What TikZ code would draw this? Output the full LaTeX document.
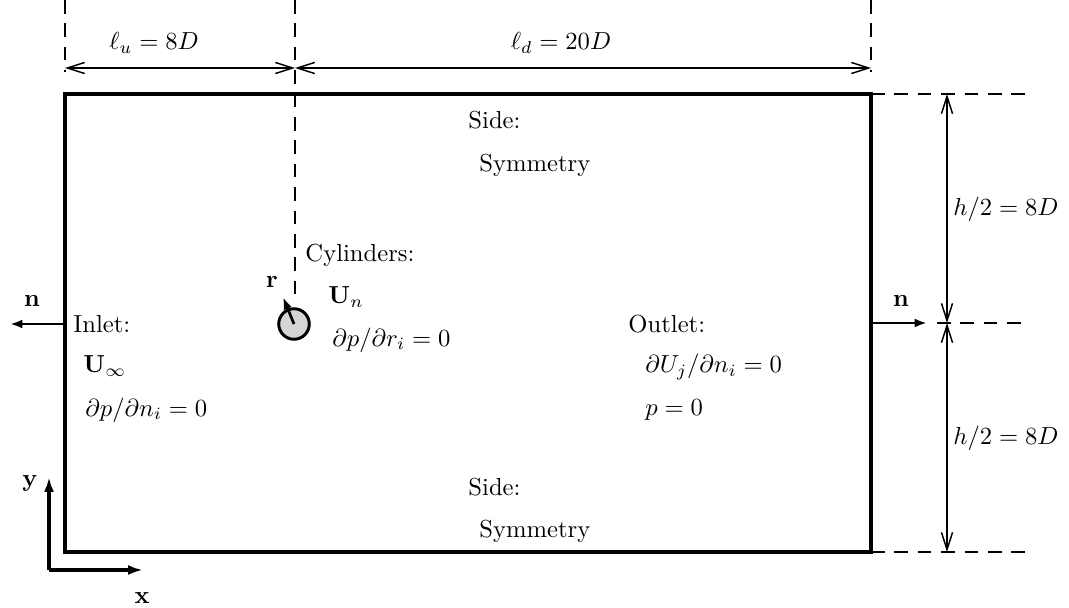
\documentclass[tikz,border=0pt]{standalone}
\usetikzlibrary{arrows.meta}
\begin{document}
\begin{tikzpicture}[x=0.406pt,y=-0.406pt,
  wall/.style={line width=1.3pt},
  dimline/.style={line width=0.6pt,{Straight Barb[length=7pt,width=4.5pt]}-{Straight Barb[length=7pt,width=4.5pt]}},
  guide/.style={line width=0.55pt,dash pattern=on 5.5pt off 4pt},
  normal/.style={line width=1.1pt,-{Latex[length=5pt,width=3.6pt]}},
  lbl/.style={inner sep=0pt,anchor=west},
  ctr/.style={inner sep=0pt}]
\useasboundingbox (0,0) rectangle (1069,608);
% domain corners
\coordinate (TL) at (65,94);
\coordinate (TR) at (871,94);
\coordinate (BL) at (65,552);
\coordinate (BR) at (871,552);
\draw[wall] (TL) -- (TR) -- (BR) -- (BL) -- cycle;
% guide lines
\coordinate (gL0) at (65,0);   \coordinate (gL1) at (65,72);
\coordinate (gC0) at (295,0);  \coordinate (gC1) at (295,300);
\coordinate (gR0) at (871,0);  \coordinate (gR1) at (871,72);
\draw[guide] (gL0) -- (gL1);
\draw[guide] (gC0) -- (gC1);
\draw[guide] (gR0) -- (gR1);
\coordinate (hT1) at (1027,94);
\coordinate (hM0) at (937,323); \coordinate (hM1) at (1027,323);
\coordinate (hB1) at (1027,552);
\draw[guide] (TR) -- (hT1);
\draw[guide] (hM0) -- (hM1);
\draw[guide] (BR) -- (hB1);
% top dimensions
\coordinate (dA) at (65,68); \coordinate (dB) at (295,68); \coordinate (dC) at (871,68);
\draw[dimline] (dA) -- (dB);
\draw[dimline] (dB) -- (dC);
\node[ctr] (lu) at (154,43) {$\ell_u = 8D$};
\node[ctr] (ld) at (561,43) {$\ell_d = 20D$};
% right dimensions
\coordinate (vA) at (947,94); \coordinate (vB) at (947,323); \coordinate (vC) at (947,552);
\draw[dimline] (vA) -- (vB);
\draw[dimline] (vB) -- (vC);
\node[ctr] (h1) at (1006,209) {$h/2 = 8D$};
\node[ctr] (h2) at (1006,438) {$h/2 = 8D$};
% normals
\coordinate (nL0) at (65,324); \coordinate (nL1) at (10,324);
\coordinate (nR0) at (871,323); \coordinate (nR1) at (927,323);
\draw[normal] (nL0) -- (nL1);
\draw[normal] (nR0) -- (nR1);
\node[ctr] (nl) at (32,301) {$\mathbf{n}$};
\node[ctr] (nr) at (901,301) {$\mathbf{n}$};
% cylinder
\node[circle,draw,line width=1.2pt,fill=black!17,inner sep=0pt,minimum size=12.4pt] (cyl) at (294,324) {};
\coordinate (rtip) at (283,297);
\draw[line width=1.1pt,-{Latex[length=5pt,width=3.6pt]}] (cyl.center) -- (rtip);
\node[ctr] (rl) at (272,282) {$\mathbf{r}$};
% texts
\node[lbl] (inlet) at (73,324) {Inlet:};
\node[lbl] (uinf) at (83,366) {$\mathbf{U}_\infty$};
\node[lbl] (dpn) at (85,410) {$\partial p/\partial n_i = 0$};
\node[lbl] (outlet) at (628,324) {Outlet:};
\node[lbl] (duj) at (645,367) {$\partial U_j/\partial n_i = 0$};
\node[lbl] (p0) at (645,410) {$p = 0$};
\node[lbl] (side1) at (468,120) {Side:};
\node[lbl] (sym1) at (479,165) {Symmetry};
\node[lbl] (side2) at (468,487) {Side:};
\node[lbl] (sym2) at (479,531) {Symmetry};
\node[lbl] (cyls) at (305,255) {Cylinders:};
\node[lbl] (un) at (328,297) {$\mathbf{U}_n$};
\node[lbl] (dpr) at (332,340) {$\partial p/\partial r_i = 0$};
% axes
\coordinate (O) at (49,570);
\coordinate (yax) at (49,477);
\coordinate (xax) at (143,570);
\draw[line width=1.3pt,-{Latex[length=6pt,width=4pt]}] (O) -- (yax);
\draw[line width=1.3pt,-{Latex[length=6pt,width=4pt]}] (O) -- (xax);
\node[ctr] (yl) at (30,483) {$\mathbf{y}$};
\node[ctr] (xl) at (142,598) {$\mathbf{x}$};
\end{tikzpicture}
\end{document}
